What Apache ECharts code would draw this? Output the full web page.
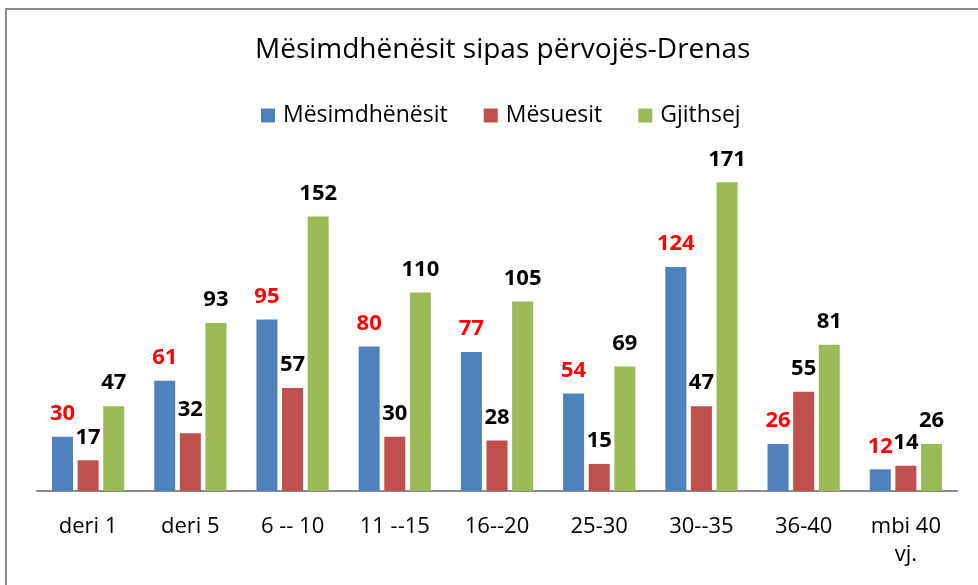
<!DOCTYPE html>
<html>
<head>
<meta charset="utf-8">
<script src="https://cdn.jsdelivr.net/npm/echarts@6/dist/echarts.min.js"></script>
<style>
  html, body { margin: 0; padding: 0; background: #fff; }
  #chart1 { width: 978px; height: 585px; }
</style>
</head>
<body>
<div id="chart1"></div>
<script>
// categories and values
var categories = ['deri 1', 'deri 5', '6 -- 10', '11 --15', '16--20', '25-30', '30--35', '36-40', 'mbi 40\nvj.'];
var mesimdhenesit = [30, 61, 95, 80, 77, 54, 124, 26, 12];
var mesuesit = [17, 32, 57, 30, 28, 15, 47, 55, 14];
var gjithsej = [47, 93, 152, 110, 105, 69, 171, 81, 26];

var font = 'Open Sans';

function barSeries(name, data, color, labelColor) {
    return {
        name: name,
        type: 'bar',
        data: data,
        barWidth: 21,
        barGap: '22%',
        itemStyle: { color: color },
        label: {
            show: true,
            position: 'top',
            distance: 12,
            color: labelColor,
            fontWeight: 'bold',
            fontSize: 22,
            fontFamily: font
        }
    };
}

var chart = echarts.init(document.getElementById('chart1'));
var option = {
    animation: false,
    title: {
        text: 'Mësimdhënësit sipas përvojës-Drenas',
        left: 250,
        top: 31,
        textStyle: { fontSize: 28, fontWeight: 'normal', color: '#000', fontFamily: font }
    },
    legend: {
        top: 99,
        left: 256,
        itemWidth: 14,
        itemHeight: 14,
        itemGap: 36,
        icon: 'rect',
        textStyle: { fontSize: 23, color: '#000', fontFamily: font, padding: [0, 0, 0, 3] }
    },
    grid: { left: 37, right: 21, top: 166, bottom: 94 },
    xAxis: {
        type: 'category',
        data: categories,
        axisLine: { lineStyle: { color: '#8c8c8c', width: 2 } },
        axisTick: { show: false },
        axisLabel: { color: '#000', fontSize: 22, fontFamily: font, margin: 22, lineHeight: 28 }
    },
    yAxis: {
        type: 'value',
        min: 0,
        max: 180,
        show: false
    },
    series: [
        barSeries('Mësimdhënësit', mesimdhenesit, '#4f81bd', '#ff0000'),
        barSeries('Mësuesit', mesuesit, '#c0504d', '#000'),
        barSeries('Gjithsej', gjithsej, '#9bbb59', '#000')
    ],
    graphic: [{
        type: 'polyline',
        shape: { points: [[6, 585], [6, 9], [978, 9]] },
        style: { stroke: '#8c8c8c', lineWidth: 2, fill: null }
    }]
};
chart.setOption(option);
</script>
</body>
</html>
